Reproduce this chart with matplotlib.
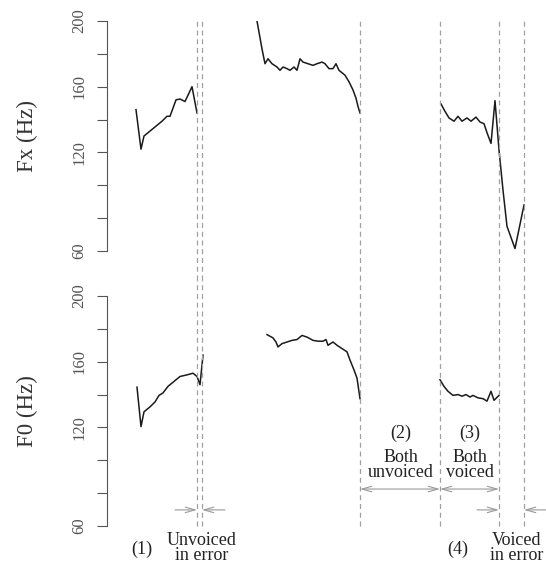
import matplotlib
matplotlib.use("Agg")
import matplotlib.pyplot as plt

# frame positions (arbitrary time units) and pitch values
fx_t1 = [29, 34, 37, 43, 49, 55, 60, 63, 66, 69, 73, 78, 85, 90]
fx_v1 = [146, 122, 130, 133, 136, 139, 142, 142, 147, 152, 152.5, 151, 160, 144]
fx_t2 = [150, 155, 158, 161, 165, 170, 173, 176, 180, 183, 187, 190, 193, 196, 201,
         206, 210, 215, 218, 222, 226, 229, 232, 238, 242, 246, 249, 251, 253]
fx_v2 = [200, 183, 174, 177, 174, 172, 170, 172, 171, 170, 172, 170, 177, 175, 174,
         173, 174, 175, 174, 171, 171, 174, 170, 167, 163, 158, 153, 148, 144]
fx_t3 = [334, 338, 342, 347, 351, 355, 360, 364, 369, 373, 377, 380, 384, 388, 392,
         396, 400, 408, 417]
fx_v3 = [149.5, 145, 141, 139, 142, 139, 141, 139, 141.5, 138.5, 137.5, 132, 125.5,
         151.5, 121.5, 97, 75, 61.5, 88]

f0_t1 = [30, 34, 37, 43, 48, 52, 56, 61, 66, 73, 80, 86, 90, 93, 96]
f0_v1 = [144.5, 120.5, 129.5, 132.5, 135.5, 139.5, 141, 145, 147.5, 151, 152, 153,
         151, 146, 164]
f0_t2 = [160, 166, 169, 171, 175, 180, 185, 190, 195, 200, 206, 211, 216, 219, 221,
         226, 230, 235, 240, 243, 247, 250, 253]
f0_v2 = [176.5, 174.5, 172, 169, 171, 172, 173, 173.5, 176, 175, 173, 172.5, 172.5,
         173.5, 170, 172, 170, 168, 166, 161, 155, 150, 137.5]
f0_t3 = [333, 337, 341, 346, 351, 355, 359, 363, 366, 371, 376, 380, 384, 387, 392]
f0_v3 = [149, 145, 142, 139.5, 140, 139, 140, 138.5, 139.5, 138, 137.5, 136, 142,
         136.5, 139.5]

# region boundaries
bounds = [90, 95, 253, 333, 392, 417]

yticks = [60, 80, 100, 120, 140, 160, 180, 200]
ytick_labels = ["60", "", "", "120", "", "160", "", "200"]

# annotations (bottom panel data coords)
double_arrows = [(253, 333), (333, 392)]
single_arrows = [(68, 90), (118, 95), (370, 392), (439, 417)]
inner_text = [("(2)", 294, 116.6), ("Both\nunvoiced", 294, 97.4),
              ("(3)", 363, 116.6), ("Both\nvoiced", 363, 97.4)]
outer_text = [("(1)", 35, 46), ("Unvoiced\nin error", 95, 46.4),
              ("(4)", 351, 46), ("Voiced\nin error", 410, 46.4)]

plt.rcParams['font.family'] = ['Liberation Serif', 'DejaVu Serif']

fig = plt.figure(figsize=(5.46, 5.63), dpi=100)
ax_fx = fig.add_axes([107/546, 1-251/563, 439/546, 230/563])
ax_f0 = fig.add_axes([107/546, 1-526/563, 439/546, 230/563])

line_kw = dict(color="#1a1a1a", lw=1.1)
ax_fx.plot(fx_t1, fx_v1, **line_kw)
ax_fx.plot(fx_t2, fx_v2, **line_kw)
ax_fx.plot(fx_t3, fx_v3, **line_kw)
ax_f0.plot(f0_t1, f0_v1, **line_kw)
ax_f0.plot(f0_t2, f0_v2, **line_kw)
ax_f0.plot(f0_t3, f0_v3, **line_kw)

dash_kw = dict(color="#a0a0a0", lw=0.9, ls=(0, (4, 3)), clip_on=False)
for b in bounds:
    ax_fx.axvline(b, ymin=-0.126, ymax=1, **dash_kw)
    ax_f0.axvline(b, ymin=0, ymax=1.07, **dash_kw)

for ax, name, yc in [(ax_fx, "Fx (Hz)", 136), (ax_f0, "F0 (Hz)", 411)]:
    ax.set_xlim(0, 439)
    ax.set_ylim(60, 200)
    for s in ["top", "right", "bottom"]:
        ax.spines[s].set_visible(False)
    ax.spines["left"].set_color("#555555")
    ax.spines["left"].set_linewidth(0.8)
    ax.set_xticks([])
    ax.set_yticks(yticks)
    ax.set_yticklabels(ytick_labels, rotation=90, va="center", fontsize=12,
                       color="#555555")
    ax.tick_params(axis="y", length=7, width=0.8, color="#555555", pad=7)
    ax.patch.set_alpha(0)
    fig.text(27/546, 1-yc/563, name, rotation=90, ha="center", va="center",
             fontsize=16.5, color="#333333")

arrow_col = "#9a9a9a"
for a, b in double_arrows:
    ax_f0.annotate("", xy=(b, 82.5), xytext=(a, 82.5), annotation_clip=False,
                   arrowprops=dict(arrowstyle="<->,head_length=0.7,head_width=0.2",
                                   color=arrow_col, lw=0.8, shrinkA=0, shrinkB=0))
for a, b in single_arrows:
    ax_f0.annotate("", xy=(b, 69.8), xytext=(a, 69.8), annotation_clip=False,
                   arrowprops=dict(arrowstyle="->,head_length=0.7,head_width=0.2",
                                   color=arrow_col, lw=0.8, shrinkA=0, shrinkB=0))

for txt, x, y in inner_text + outer_text:
    ax_f0.text(x, y, txt, ha="center", va="center", fontsize=13,
               linespacing=0.85, color="#222222", clip_on=False)

fig.savefig("out.png", dpi=100)
